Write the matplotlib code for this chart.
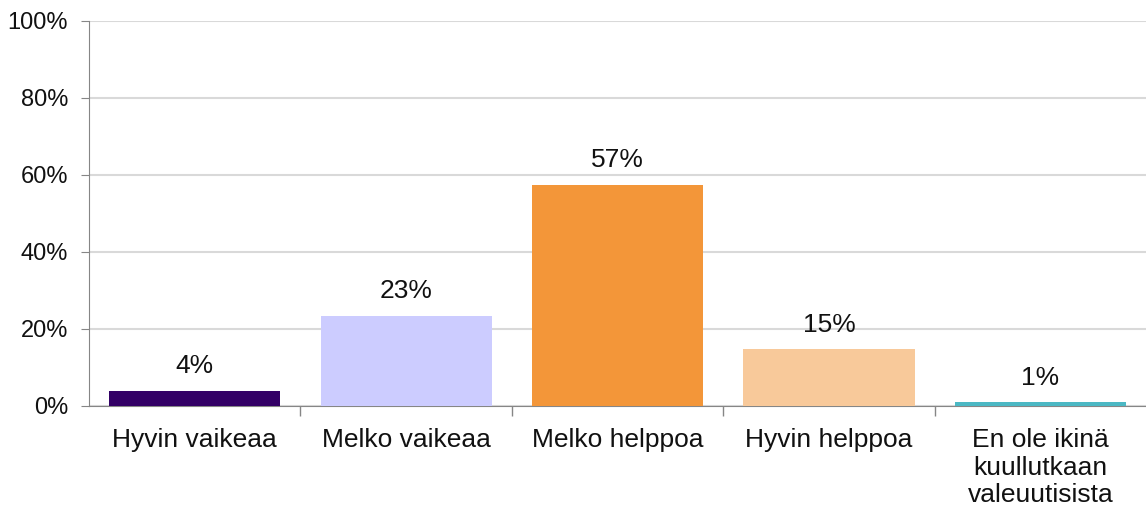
import numpy as np
from matplotlib import pyplot as plt
from matplotlib.ticker import FixedLocator, NullFormatter

categories = ['Hyvin vaikeaa', 'Melko vaikeaa', 'Melko helppoa', 'Hyvin helppoa',
              'En ole ikinä\nkuullutkaan\nvaleuutisista']
values = [3.9, 23.4, 57.4, 14.8, 1.0]
labels = ['4%', '23%', '57%', '15%', '1%']
colors = ['#330066', '#ccccff', '#f39639', '#f8c99a', '#4bb8c4']
yticks = [0, 20, 40, 60, 80, 100]

plt.rcParams['font.family'] = ['Liberation Sans', 'DejaVu Sans']

fig = plt.figure(figsize=(11.46, 5.08), dpi=100)
ax = fig.add_axes([0.0777, 0.2008, 0.9223, 0.7579])

x = np.arange(len(categories))
ax.bar(x, values, width=0.81, color=colors, zorder=3)
for xi, v, lab in zip(x, values, labels):
    ax.annotate(lab, (xi, v), xytext=(0, 9), textcoords='offset points',
                ha='center', va='bottom', fontsize=19, color='#111111')

ax.set_xlim(-0.5, len(categories) - 0.5)
ax.set_ylim(0, 100)
ax.set_yticks(yticks)
ax.set_yticklabels([f'{t}%' for t in yticks])
ax.yaxis.grid(True, color='#d9d9d9', linewidth=1.5, zorder=0)
ax.tick_params(axis='y', labelsize=17, length=6, color='#868686', pad=9, labelcolor='#111111')

ax.set_xticks(x)
ax.set_xticklabels(categories, fontsize=19, color='#111111', linespacing=1.18)
ax.tick_params(axis='x', which='major', length=0, pad=16)
ax.xaxis.set_minor_locator(FixedLocator(np.arange(0.5, len(categories) - 0.5, 1)))
ax.xaxis.set_minor_formatter(NullFormatter())
ax.tick_params(axis='x', which='minor', length=7, color='#868686', width=1)

for s in ['top', 'right']:
    ax.spines[s].set_visible(False)
for s in ['left', 'bottom']:
    ax.spines[s].set_color('#868686')

plt.savefig('out.png', dpi=100)
